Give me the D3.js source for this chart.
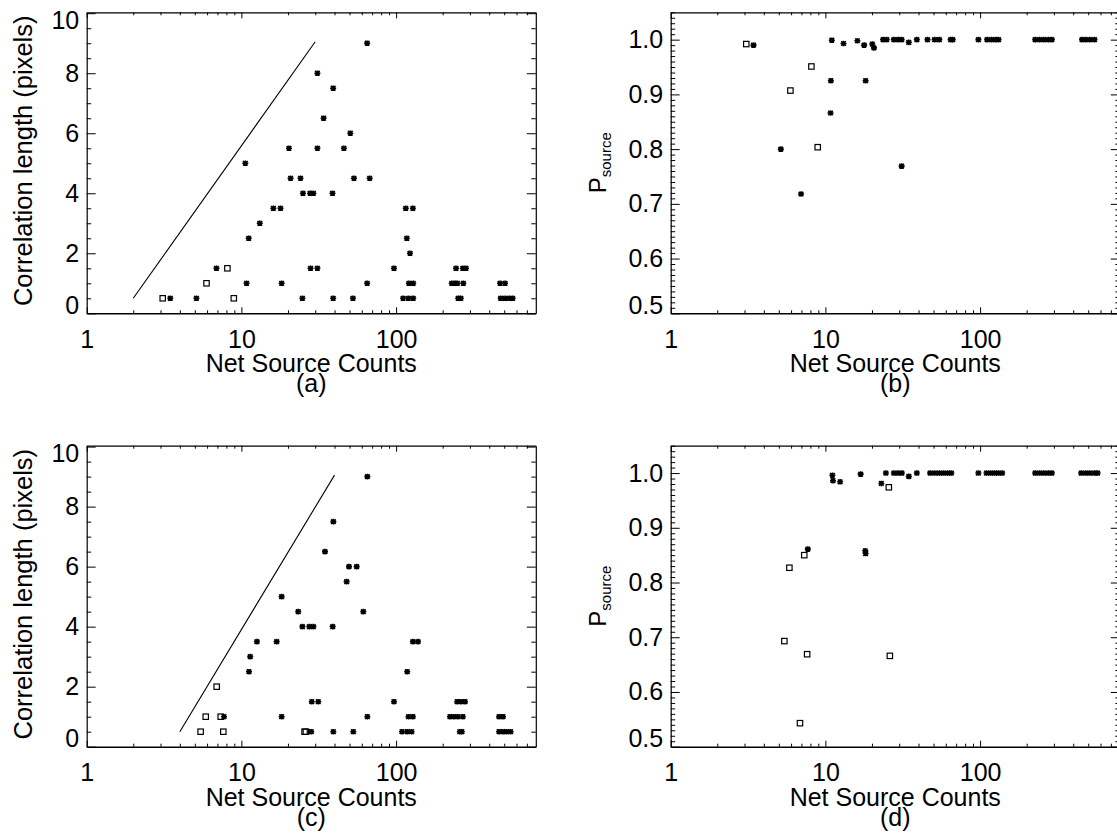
<!DOCTYPE html>
<html>
<head>
<meta charset="utf-8">
<script src="https://cdn.jsdelivr.net/npm/d3@7"></script>
<style>
  html, body { margin: 0; padding: 0; background: #fff; }
  svg { display: block; }
  text { font-family: "Liberation Sans", Arial, Helvetica, sans-serif; fill: #000; }
</style>
</head>
<body>
<svg id="chart" width="1117" height="839"></svg>
<script>
// ---------------- data ----------------
const xTickMajor = [1, 10, 100];
const xTickMinor = [2,3,4,5,6,7,8,9,20,30,40,50,60,70,80,90,200,300,400,500,600,700];
const corrTicks = [0, 2, 4, 6, 8, 10];
const probTicks = [0.5, 0.6, 0.7, 0.8, 0.9, 1.0];

// (a) correlation length vs net counts
const aSquares = [[3.1,0.5],[5.95,1.0],[8.12,1.5],[8.93,0.5]];
const aStars = [
  [3.47,0.5],[5.12,0.5],[6.9,1.5],[10.6,5.0],[10.8,1.0],[11.15,2.5],[13.15,3.0],
  [16.1,3.5],[17.9,3.5],[18.2,1.0],[20.3,5.5],[20.8,4.5],[24.1,4.5],[25.0,4.0],
  [24.8,0.5],[27.8,4.0],[29.2,4.0],[28.0,1.5],[31.0,1.5],[31.0,8.0],[31.0,5.5],
  [34.0,6.5],[39.2,7.5],[38.8,4.0],[39.2,0.5],[46.0,5.5],[50.6,6.0],[53.4,4.5],
  [52.6,0.5],[65.0,9.0],[65.0,1.0],[67.5,4.5],[96.9,1.5],[115.5,3.5],[128.4,3.5],
  [117.3,2.5],[123,2.0],[121,1.0],[129,1.0],[111,0.5],[120,0.5],[129,0.5],
  [244,1.5],[270,1.5],[283,1.5],[229,1.0],[240,1.0],[249,1.0],[272,1.0],
  [252,0.5],[262,0.5],[470,1.0],[506,1.0],[474,0.5],[506,0.5],[539,0.5],[567,0.5]
];
const aLineX = [2, 30];
const aLineY = [0.5, 9.05];

// (b) P_source vs net counts
const bSquares = [[3.08,0.992],[5.94,0.907],[8.12,0.951],[8.92,0.8035]];
const bStars = [
  [3.43,0.990],[5.15,0.800],[6.96,0.718],[10.8,0.866],[10.85,0.925],[11.0,0.999],
  [13.1,0.993],[16.1,0.998],[17.8,0.990],[18.2,0.925],[20.1,0.992],[20.6,0.985],
  [23.6,1],[24.9,1],[27.7,1],[29.5,1],[31.1,1],[31.1,0.769],[34.6,0.995],[39.0,1],
  [45.7,1],[50.8,1],[54.5,1],[64.5,1],[66.5,1],[97.5,1],[111,1],[118.5,1],
  [125.6,1],[131.6,1],[227,1],[242,1],[258,1],[276,1],[291,1],[456,1],[481,1],
  [512,1],[549,1]
];

// (c) correlation length vs net counts
const cSquares = [[5.45,0.5],[5.88,1.0],[6.92,2.0],[7.35,1.0],[7.64,0.5],[25.6,0.5],[26.1,0.5]];
const cStars = [
  [7.72,1.0],[28.3,0.5],[11.2,2.5],[11.4,3.0],[12.6,3.5],[16.9,3.5],[18.2,5.0],
  [18.2,1.0],[23.3,4.5],[24.8,4.0],[27.5,4.0],[29.2,4.0],[38.9,4.0],[28.5,1.5],
  [31.4,1.5],[39.3,0.5],[52.9,0.5],[39.3,7.5],[34.7,6.5],[49.6,6.0],[55.6,6.0],
  [47.9,5.5],[61.4,4.5],[65.2,9.0],[65.2,1.0],[96.9,1.5],[118,2.5],[128.4,3.5],
  [138.5,3.5],[120.3,1.0],[128.4,1.0],[109.2,0.5],[118,0.5],[126,0.5],
  [248,1.5],[262,1.5],[279,1.5],[223,1.0],[236,1.0],[251,1.0],[270,1.0],
  [258,0.5],[266,0.5],[463,1.0],[491,1.0],[463,0.5],[491,0.5],[518,0.5],[550,0.5]
];
const cLineX = [4, 40];
const cLineY = [0.5, 9.05];

// (d) P_source vs net counts
const dSquares = [[5.43,0.693],[5.85,0.827],[7.3,0.850],[7.62,0.669],[6.85,0.543],[25.7,0.974],[26.1,0.666]];
const dStars = [
  [7.7,0.861],[11.1,0.996],[11.2,0.986],[12.45,0.984],[16.9,0.998],[18.1,0.858],
  [18.2,0.853],[23.0,0.981],[24.6,1],[27.7,1],[29.5,1],[31.2,1],[34.6,0.994],
  [39,1],[47.5,1],[50.8,1],[54.5,1],[58,1],[61.8,1],[65.2,1],[97.5,1],[110,1],
  [117,1],[124,1],[131,1],[139,1],[227,1],[242,1],[258,1],[276,1],[291,1],
  [450,1],[481,1],[512,1],[549,1],[575,1]
];

const xTitle = "Net Source Counts";
const corrTitle = "Correlation length (pixels)";

// ---------------- drawing ----------------
const svg = d3.select("#chart");
svg.append("rect").attr("width", 1117).attr("height", 839).attr("fill", "#fff");

const PW = 449.1, PH = 301;
const DY = 433.4;
const starPath = "M-3,0H3M0,-2.8V2.8M-2.3,-2.3L2.3,2.3M-2.3,2.3L2.3,-2.3";

function panel(cfg) {
  const left = cfg.left, top = cfg.top, bottom = top + PH, right = left + PW;
  const g = svg.append("g");
  const x = d3.scaleLog().domain([1, 800]).range([left, right]);
  const y = d3.scaleLinear().domain(cfg.yDomain).range([bottom, top]);

  const style = sel => {
    sel.selectAll(".domain").attr("stroke", "#000").attr("stroke-width", 1.2);
    sel.selectAll(".tick line").attr("stroke", "#000").attr("stroke-width", 1);
  };

  // bottom axis: majors with labels
  const bx = g.append("g").attr("transform", `translate(0,${bottom})`)
    .call(d3.axisBottom(x).tickValues(xTickMajor).tickFormat(d3.format("d"))
      .tickSize(-6).tickSizeOuter(0).tickPadding(17));
  bx.selectAll(".tick text").attr("font-size", 25).attr("font-family", null);
  bx.call(style);
  bx.select(".domain").attr("stroke-width", 1.6);
  g.append("g").attr("transform", `translate(0,${bottom})`)
    .call(d3.axisBottom(x).tickValues(xTickMinor).tickFormat("").tickSize(-3).tickSizeOuter(0))
    .call(style).select(".domain").remove();
  // top axis
  g.append("g").attr("transform", `translate(0,${top})`)
    .call(d3.axisTop(x).tickValues(xTickMajor).tickFormat("").tickSize(-6).tickSizeOuter(0))
    .call(style);
  g.append("g").attr("transform", `translate(0,${top})`)
    .call(d3.axisTop(x).tickValues(xTickMinor).tickFormat("").tickSize(-3).tickSizeOuter(0))
    .call(style).select(".domain").remove();

  // left axis
  const ly = g.append("g").attr("transform", `translate(${left},0)`)
    .call(d3.axisLeft(y).tickValues(cfg.yTicks).tickFormat(cfg.yFormat)
      .tickSize(-9).tickSizeOuter(0).tickPadding(7.5));
  ly.selectAll(".tick text").attr("font-size", 25).attr("font-family", null)
    .attr("y", d => d === cfg.yDomain[0] ? -8 : (d === 10 ? 7 : 0));
  ly.call(style);
  g.append("g").attr("transform", `translate(${left},0)`)
    .call(d3.axisLeft(y).tickValues(cfg.yMinor).tickFormat("").tickSize(-4.5).tickSizeOuter(0))
    .call(style).select(".domain").remove();
  // right axis
  g.append("g").attr("transform", `translate(${right},0)`)
    .call(d3.axisRight(y).tickValues(cfg.yTicks).tickFormat("").tickSize(-9).tickSizeOuter(0))
    .call(style);
  g.append("g").attr("transform", `translate(${right},0)`)
    .call(d3.axisRight(y).tickValues(cfg.yMinor).tickFormat("").tickSize(-4.5).tickSizeOuter(0))
    .call(style).select(".domain").remove();

  // reference line
  if (cfg.lineX) {
    const pts = cfg.lineX.map((v, i) => [v, cfg.lineY[i]]);
    g.append("path").datum(pts)
      .attr("d", d3.line().x(d => x(d[0])).y(d => y(d[1])))
      .attr("fill", "none").attr("stroke", "#000").attr("stroke-width", 1.1);
  }

  // squares
  g.append("g").selectAll("rect").data(cfg.squares).join("rect")
    .attr("x", d => x(d[0]) - 2.7).attr("y", d => y(d[1]) - 2.7)
    .attr("width", 5.4).attr("height", 5.4)
    .attr("fill", "none").attr("stroke", "#000").attr("stroke-width", 1.2);
  // asterisks
  g.append("g").selectAll("path").data(cfg.stars).join("path")
    .attr("transform", d => `translate(${x(d[0])},${y(d[1])})`)
    .attr("d", starPath).attr("fill", "none").attr("stroke", "#000").attr("stroke-width", 1.6);

  // x title and panel letter
  const cx = (left + right) / 2;
  g.append("text").attr("x", cx).attr("y", bottom + 59).attr("text-anchor", "middle")
    .attr("font-size", 25).text(xTitle);
  g.append("text").attr("x", cx).attr("y", bottom + 79).attr("text-anchor", "middle")
    .attr("font-size", 25).text(cfg.letter);

  // y title
  const ty = (top + bottom) / 2 - 2;
  if (cfg.kind === "corr") {
    g.append("text").attr("transform", `translate(${left - 54.5},${ty}) rotate(-90)`)
      .attr("text-anchor", "middle").attr("font-size", 25.5).text(corrTitle);
  } else {
    const t = g.append("text").attr("transform", `translate(${left - 64.5},${ty + 2}) rotate(-90)`)
      .attr("text-anchor", "middle").attr("font-size", 24);
    t.append("tspan").text("P");
    t.append("tspan").attr("font-size", 15).attr("dy", 5).text("source");
  }
}

const corrMinor = d3.range(0, 10.001, 0.5).filter(v => Math.abs(v / 2 - Math.round(v / 2)) > 1e-6);
const probMinor = d3.range(50, 106, 1).filter(v => v % 10 !== 0).map(v => v / 100);

const corrCfg = { kind: "corr", yDomain: [0, 10.03], yTicks: corrTicks, yMinor: corrMinor, yFormat: d3.format("d") };
const probCfg = { kind: "prob", yDomain: [0.5, 1.05], yTicks: probTicks, yMinor: probMinor, yFormat: d3.format(".1f") };

panel({ ...corrCfg, left: 86.7, top: 12.3, squares: aSquares, stars: aStars, lineX: aLineX, lineY: aLineY, letter: "(a)" });
panel({ ...probCfg, left: 670.7, top: 12.3, squares: bSquares, stars: bStars, letter: "(b)" });
panel({ ...corrCfg, left: 86.7, top: 12.3 + DY, squares: cSquares, stars: cStars, lineX: cLineX, lineY: cLineY, letter: "(c)" });
panel({ ...probCfg, left: 670.7, top: 12.3 + DY, squares: dSquares, stars: dStars, letter: "(d)" });
</script>
</body>
</html>
